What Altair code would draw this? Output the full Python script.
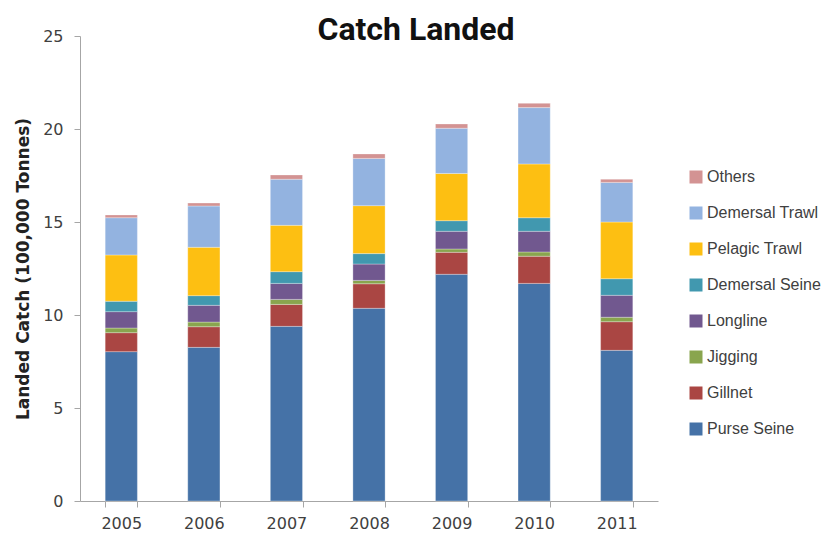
import altair as alt
import pandas as pd

years = ["2005", "2006", "2007", "2008", "2009", "2010", "2011"]
gears = ["Purse Seine", "Gillnet", "Jigging", "Longline", "Demersal Seine",
         "Pelagic Trawl", "Demersal Trawl", "Others"]
colors = ["#4572A7", "#AA4643", "#89A54E", "#71588F", "#4198AF",
          "#FDBF12", "#93B3E0", "#D39393"]

purse_seine = [8.03, 8.26, 9.39, 10.36, 12.19, 11.70, 8.10]
gillnet = [1.02, 1.11, 1.18, 1.32, 1.18, 1.46, 1.54]
jigging = [0.25, 0.25, 0.27, 0.18, 0.18, 0.23, 0.24]
longline = [0.88, 0.90, 0.86, 0.88, 0.95, 1.11, 1.18]
demersal_seine = [0.56, 0.52, 0.63, 0.56, 0.57, 0.73, 0.89]
pelagic_trawl = [2.49, 2.60, 2.49, 2.58, 2.54, 2.89, 3.05]
demersal_trawl = [2.00, 2.22, 2.48, 2.54, 2.43, 3.03, 2.13]
others = [0.15, 0.16, 0.23, 0.24, 0.23, 0.23, 0.17]

series = [purse_seine, gillnet, jigging, longline, demersal_seine,
          pelagic_trawl, demersal_trawl, others]

rows = []
for rank, (g, vals) in enumerate(zip(gears, series)):
    for y, v in zip(years, vals):
        rows.append({"Year": y, "Gear": g, "Catch": v, "rank": rank})
df = pd.DataFrame(rows)

FONT = "DejaVu Sans"
AXIS_COLOR = "#A6A6A6"
TEXT_COLOR = "#404040"

chart = alt.Chart(df).mark_bar(
    stroke="#ffffff", strokeWidth=0.6, strokeOpacity=0.5
).encode(
    x=alt.X("Year:N", title=None,
            scale=alt.Scale(paddingInner=0.61, paddingOuter=0.305),
            axis=alt.Axis(labelAngle=0, tickBand="extent", domainColor=AXIS_COLOR,
                          tickColor=AXIS_COLOR, tickSize=6, labelPadding=8,
                          labelFont=FONT, labelFontSize=16, labelColor=TEXT_COLOR)),
    y=alt.Y("Catch:Q", title="Landed Catch (100,000 Tonnes)",
            scale=alt.Scale(domain=[0, 25], nice=False),
            axis=alt.Axis(values=[0, 5, 10, 15, 20, 25], grid=False,
                          domainColor=AXIS_COLOR, tickColor=AXIS_COLOR, tickSize=6,
                          labelPadding=11, labelFont=FONT, labelFontSize=16,
                          labelColor=TEXT_COLOR, titleFont=FONT, titleFontSize=17,
                          titleFontWeight="bold", titleColor="#222222",
                          titlePadding=10)),
    color=alt.Color("Gear:N", title=None,
                    scale=alt.Scale(domain=gears[::-1], range=colors[::-1]),
                    legend=alt.Legend(orient="none", legendX=608, legendY=133,
                                      symbolType="square", symbolSize=169,
                                      symbolStrokeWidth=0, labelFont="Liberation Sans",
                                      labelFontSize=16, labelColor=TEXT_COLOR,
                                      rowPadding=20, labelOffset=3, padding=0,
                                      labelLimit=200)),
    order=alt.Order("rank:Q", sort="ascending"),
).properties(
    width=578,
    height=465,
    title=alt.TitleParams("Catch Landed", font="Roboto",
                          fontSize=32, fontWeight="bold", color="#111111",
                          anchor="middle", frame="group", dx=47, dy=23, offset=4),
    autosize=alt.AutoSizeParams(type="none"),
    padding={"left": 72, "top": 28, "right": 164, "bottom": 32},
).configure_view(stroke=None)

chart.save("out.html", embed_options={"renderer": "svg", "actions": False})
